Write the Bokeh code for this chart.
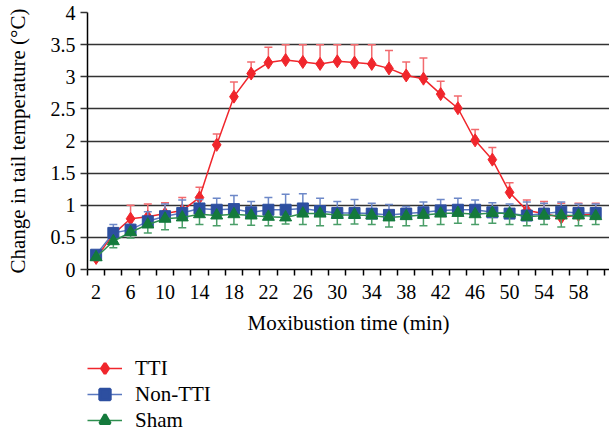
from bokeh.plotting import figure
from bokeh.layouts import column
from bokeh.models import FixedTicker, Legend, LegendItem, ColumnDataSource
from bokeh.embed import file_html
from bokeh.resources import INLINE

minutes = list(range(2, 62, 2))
x_tick_labels = [2, 6, 10, 14, 18, 22, 26, 30, 34, 38, 42, 46, 50, 54, 58]
y_ticks = [0, 0.5, 1, 1.5, 2, 2.5, 3, 3.5, 4]

tti = [0.18, 0.55, 0.79, 0.82, 0.87, 0.92, 1.12, 1.94, 2.69, 3.05, 3.22, 3.26, 3.23, 3.20, 3.24,
       3.22, 3.20, 3.13, 3.02, 2.97, 2.73, 2.51, 2.01, 1.71, 1.20, 0.92, 0.87, 0.81, 0.85, 0.86]
tti_err = [0.03, 0.10, 0.21, 0.20, 0.17, 0.20, 0.16, 0.17, 0.23, 0.18, 0.24, 0.24, 0.27, 0.30, 0.26,
           0.28, 0.30, 0.28, 0.21, 0.32, 0.20, 0.19, 0.17, 0.19, 0.15, 0.16, 0.19, 0.22, 0.18, 0.17]

non_tti = [0.23, 0.57, 0.62, 0.75, 0.83, 0.88, 0.95, 0.93, 0.94, 0.89, 0.93, 0.93, 0.95, 0.91, 0.88,
           0.88, 0.87, 0.85, 0.87, 0.89, 0.92, 0.93, 0.93, 0.89, 0.87, 0.84, 0.87, 0.90, 0.88, 0.88]
non_tti_err = [0.03, 0.13, 0.08, 0.15, 0.19, 0.20, 0.14, 0.18, 0.21, 0.17, 0.19, 0.24, 0.23, 0.20, 0.18,
               0.21, 0.16, 0.16, 0.11, 0.16, 0.17, 0.18, 0.15, 0.15, 0.15, 0.21, 0.16, 0.15, 0.14, 0.14]

sham = [0.19, 0.44, 0.58, 0.70, 0.79, 0.81, 0.86, 0.84, 0.86, 0.84, 0.82, 0.81, 0.87, 0.87, 0.85,
        0.85, 0.84, 0.81, 0.83, 0.85, 0.87, 0.88, 0.86, 0.88, 0.87, 0.82, 0.84, 0.84, 0.84, 0.83]
sham_err = [0.03, 0.10, 0.09, 0.13, 0.17, 0.16, 0.16, 0.16, 0.16, 0.15, 0.14, 0.10, 0.17, 0.19, 0.15,
            0.14, 0.14, 0.15, 0.15, 0.17, 0.17, 0.16, 0.16, 0.16, 0.17, 0.14, 0.14, 0.18, 0.16, 0.13]

FONT = "Liberation Serif"

p = figure(width=609, height=345, x_range=(1, 61.6), y_range=(0, 4),
           output_backend="svg", toolbar_location=None,
           min_border_left=87, min_border_right=0, min_border_top=12, min_border_bottom=76)
p.outline_line_color = None
p.background_fill_color = "white"

# grid
p.xgrid.visible = False
p.ygrid.ticker = FixedTicker(ticks=y_ticks)
p.ygrid.grid_line_color = "#333333"
p.ygrid.grid_line_width = 1.5

# x axis
xa = p.xaxis[0]
xa.ticker = FixedTicker(ticks=x_tick_labels, minor_ticks=list(range(1, 62, 2)))
xa.major_tick_line_color = None
xa.major_tick_out = 0
xa.major_tick_in = 0
xa.minor_tick_out = 6
xa.minor_tick_in = 0
xa.minor_tick_line_color = "black"
xa.minor_tick_line_width = 1.5
xa.axis_line_color = "black"
xa.axis_line_width = 1.5
xa.axis_label = "Moxibustion time (min)"
xa.major_label_standoff = 9
xa.axis_label_standoff = 9

# y axis
ya = p.yaxis[0]
ya.ticker = FixedTicker(ticks=y_ticks)
ya.minor_tick_line_color = None
ya.major_tick_out = 7
ya.major_tick_in = 0
ya.major_tick_line_color = "#333333"
ya.major_tick_line_width = 1.5
ya.axis_line_color = "black"
ya.axis_line_width = 1.5
ya.axis_label = "Change in tail temperature (°C)"
ya.major_label_standoff = 5
ya.axis_label_standoff = 18

for ax in (xa, ya):
    ax.major_label_text_font = FONT
    ax.major_label_text_font_size = "20px"
    ax.major_label_text_color = "black"
    ax.axis_label_text_font = FONT
    ax.axis_label_text_font_size = "21px"
    ax.axis_label_text_font_style = "normal"
    ax.axis_label_text_color = "black"

series = [
    ("TTI", tti, tti_err, 1, "#f0262c", "#f0262c", "#f26a6e", "diamond", 13),
    ("Non-TTI", non_tti, non_tti_err, 1, "#5a78c0", "#2d4fa0", "#6d88c8", "square", 11),
    ("Sham", sham, sham_err, -1, "#2f8f50", "#147a3c", "#4a9e68", "triangle", 12),
]

# legend panel (second figure below the chart; its frame is aligned with the chart's frame)
q = figure(width=609, height=88, x_range=(0, 1), y_range=(0, 1),
           x_axis_type=None, y_axis_type=None,
           output_backend="svg", toolbar_location=None,
           min_border=0, min_border_left=0, min_border_right=0,
           min_border_top=0, min_border_bottom=0)
q.outline_line_color = None
q.grid.visible = False

items = []
for name, vals, errs, direction, lcol, mcol, ecol, marker, msize in series:
    ends = [v + direction * e for v, e in zip(vals, errs)]
    src = ColumnDataSource(dict(x=minutes, y=vals, end=ends))
    p.segment(x0="x", y0="y", x1="x", y1="end", source=src, line_color=ecol, line_width=1.5)
    p.scatter(x="x", y="end", source=src, marker="dash", size=8, line_color=ecol, line_width=1.5)
    p.line(x="x", y="y", source=src, line_color=lcol, line_width=1.5)
    p.scatter(x="x", y="y", source=src, marker=marker, size=msize,
              fill_color=mcol, line_color=mcol)
    # same series in the legend panel (outside its ranges, so only the legend glyphs show)
    ln = q.line(x="x", y="y", source=src, line_color=lcol, line_width=1.5)
    sc = q.scatter(x="x", y="y", source=src, marker=marker, size=msize,
                   fill_color=mcol, line_color=mcol, line_width=3)
    items.append(LegendItem(label=name, renderers=[ln, sc]))

legend = Legend(items=items, location=(0, 0), orientation="vertical")
legend.border_line_color = None
legend.background_fill_alpha = 0
legend.margin = 0
legend.padding = 0
legend.glyph_width = 35
legend.glyph_height = 26
legend.label_height = 26
legend.spacing = 0
legend.label_standoff = 13
legend.label_text_font = FONT
legend.label_text_font_size = "21px"
legend.label_text_color = "black"
q.add_layout(legend)

layout = column(p, q, spacing=0)
open("out.html", "w").write(file_html(layout, INLINE))
